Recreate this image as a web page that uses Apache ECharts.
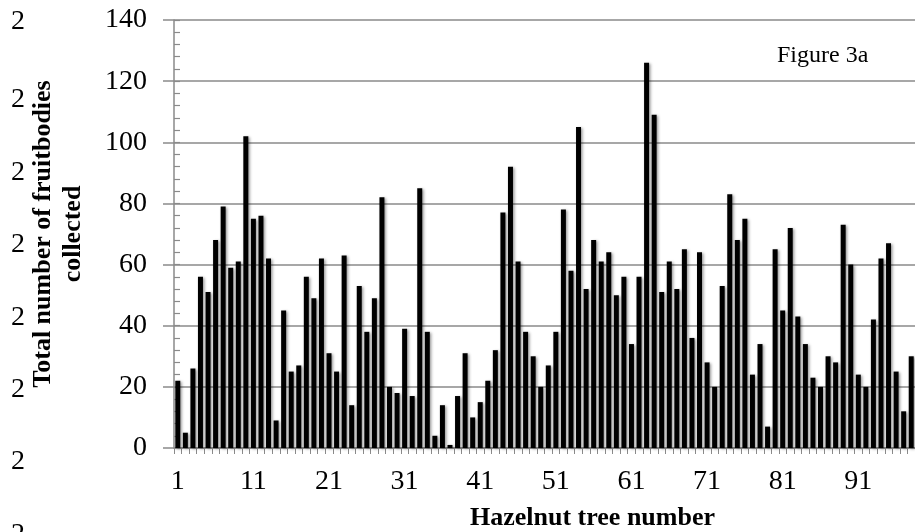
<!DOCTYPE html>
<html>
<head>
<meta charset="utf-8">
<script src="https://cdn.jsdelivr.net/npm/echarts@6/dist/echarts.min.js"></script>
<style>
  html, body { margin: 0; padding: 0; background: #fff; }
  #chart { width: 915px; height: 532px; }
</style>
</head>
<body>
<div id="chart"></div>
<script>
// Fruitbodies collected under each hazelnut tree
const treeCount = 98;
const treeNumbers = Array.from({ length: treeCount }, (_, i) => String(i + 1));
const fruitbodies = [
  22, 5, 26, 56, 51, 68, 79, 59, 61, 102,
  75, 76, 62, 9, 45, 25, 27, 56, 49, 62,
  31, 25, 63, 14, 53, 38, 49, 82, 20, 18,
  39, 17, 85, 38, 4, 14, 1, 17, 31, 10,
  15, 22, 32, 77, 92, 61, 38, 30, 20, 27,
  38, 78, 58, 105, 52, 68, 61, 64, 50, 56,
  34, 56, 126, 109, 51, 61, 52, 65, 36, 64,
  28, 20, 53, 83, 68, 75, 24, 34, 7, 65,
  45, 72, 43, 34, 23, 20, 30, 28, 73, 60,
  24, 20, 42, 62, 67, 25, 12, 30
];
const yMin = 0, yMax = 140, yStep = 20, yMinorStep = 4;
const xTitle = 'Hazelnut tree number';
const yTitle = 'Total number of fruitbodies\ncollected';
const figureLabel = 'Figure 3a';
// labels cut off at the left margin
const marginLabelY = [24, 102, 175, 247, 320, 392, 464, 537];
const marginLabelText = '2';

const serif = '"Liberation Serif", "Times New Roman", serif';
const grey = '#8a8a8a';

const chart = echarts.init(document.getElementById('chart'), null, { renderer: 'canvas' });

const marginGraphics = marginLabelY.map(y => ({
  type: 'text', left: 11, top: y - 16, z: 10,
  style: { text: marginLabelText, font: '28px ' + serif, fill: '#000' }
}));

chart.setOption({
  backgroundColor: '#fff',
  animation: false,
  grid: { left: 174, right: 0, top: 20, bottom: 84, containLabel: false },
  xAxis: {
    type: 'category',
    data: treeNumbers,
    boundaryGap: true,
    axisLine: { show: true, lineStyle: { color: grey, width: 1.5 } },
    axisTick: { show: true, interval: 0, length: 6, lineStyle: { color: grey, width: 1 } },
    axisLabel: {
      interval: 9, margin: 20,
      fontFamily: serif, fontSize: 28, color: '#000'
    },
    splitLine: { show: false }
  },
  yAxis: [
    {
      type: 'value',
      min: yMin, max: yMax, interval: yStep,
      name: yTitle,
      nameLocation: 'middle',
      nameGap: 86,
      nameRotate: 90,
      nameTextStyle: {
        fontFamily: serif, fontSize: 26, fontWeight: 'bold', color: '#000',
        lineHeight: 30, align: 'center'
      },
      axisLine: { show: true, lineStyle: { color: grey, width: 1.5 } },
      axisTick: { show: true, inside: false, length: 11, lineStyle: { color: grey, width: 1.5 } },
      axisLabel: { margin: 27, fontFamily: serif, fontSize: 28, color: '#000' },
      splitLine: { show: true, lineStyle: { color: grey, width: 1.5 } }
    },
    {
      type: 'value',
      position: 'left',
      min: yMin, max: yMax, interval: yMinorStep,
      axisLine: { show: false },
      axisTick: { show: true, inside: true, length: 6, lineStyle: { color: grey, width: 1.2 } },
      axisLabel: { show: false },
      splitLine: { show: false }
    }
  ],
  graphic: [
    {
      type: 'text', left: 777, top: 44, z: 10,
      style: { text: figureLabel, font: '24px ' + serif, fill: '#000' }
    },
    {
      type: 'text', left: 470, top: 505, z: 10,
      style: { text: xTitle, font: 'bold 26px ' + serif, fill: '#000' }
    }
  ].concat(marginGraphics),
  series: [{
    type: 'bar',
    yAxisIndex: 0,
    data: fruitbodies,
    barWidth: 5,
    itemStyle: {
      color: '#000',
      shadowColor: 'rgba(0,0,0,0.4)',
      shadowBlur: 3,
      shadowOffsetX: 1.5,
      shadowOffsetY: 1
    }
  }]
});
</script>
</body>
</html>
